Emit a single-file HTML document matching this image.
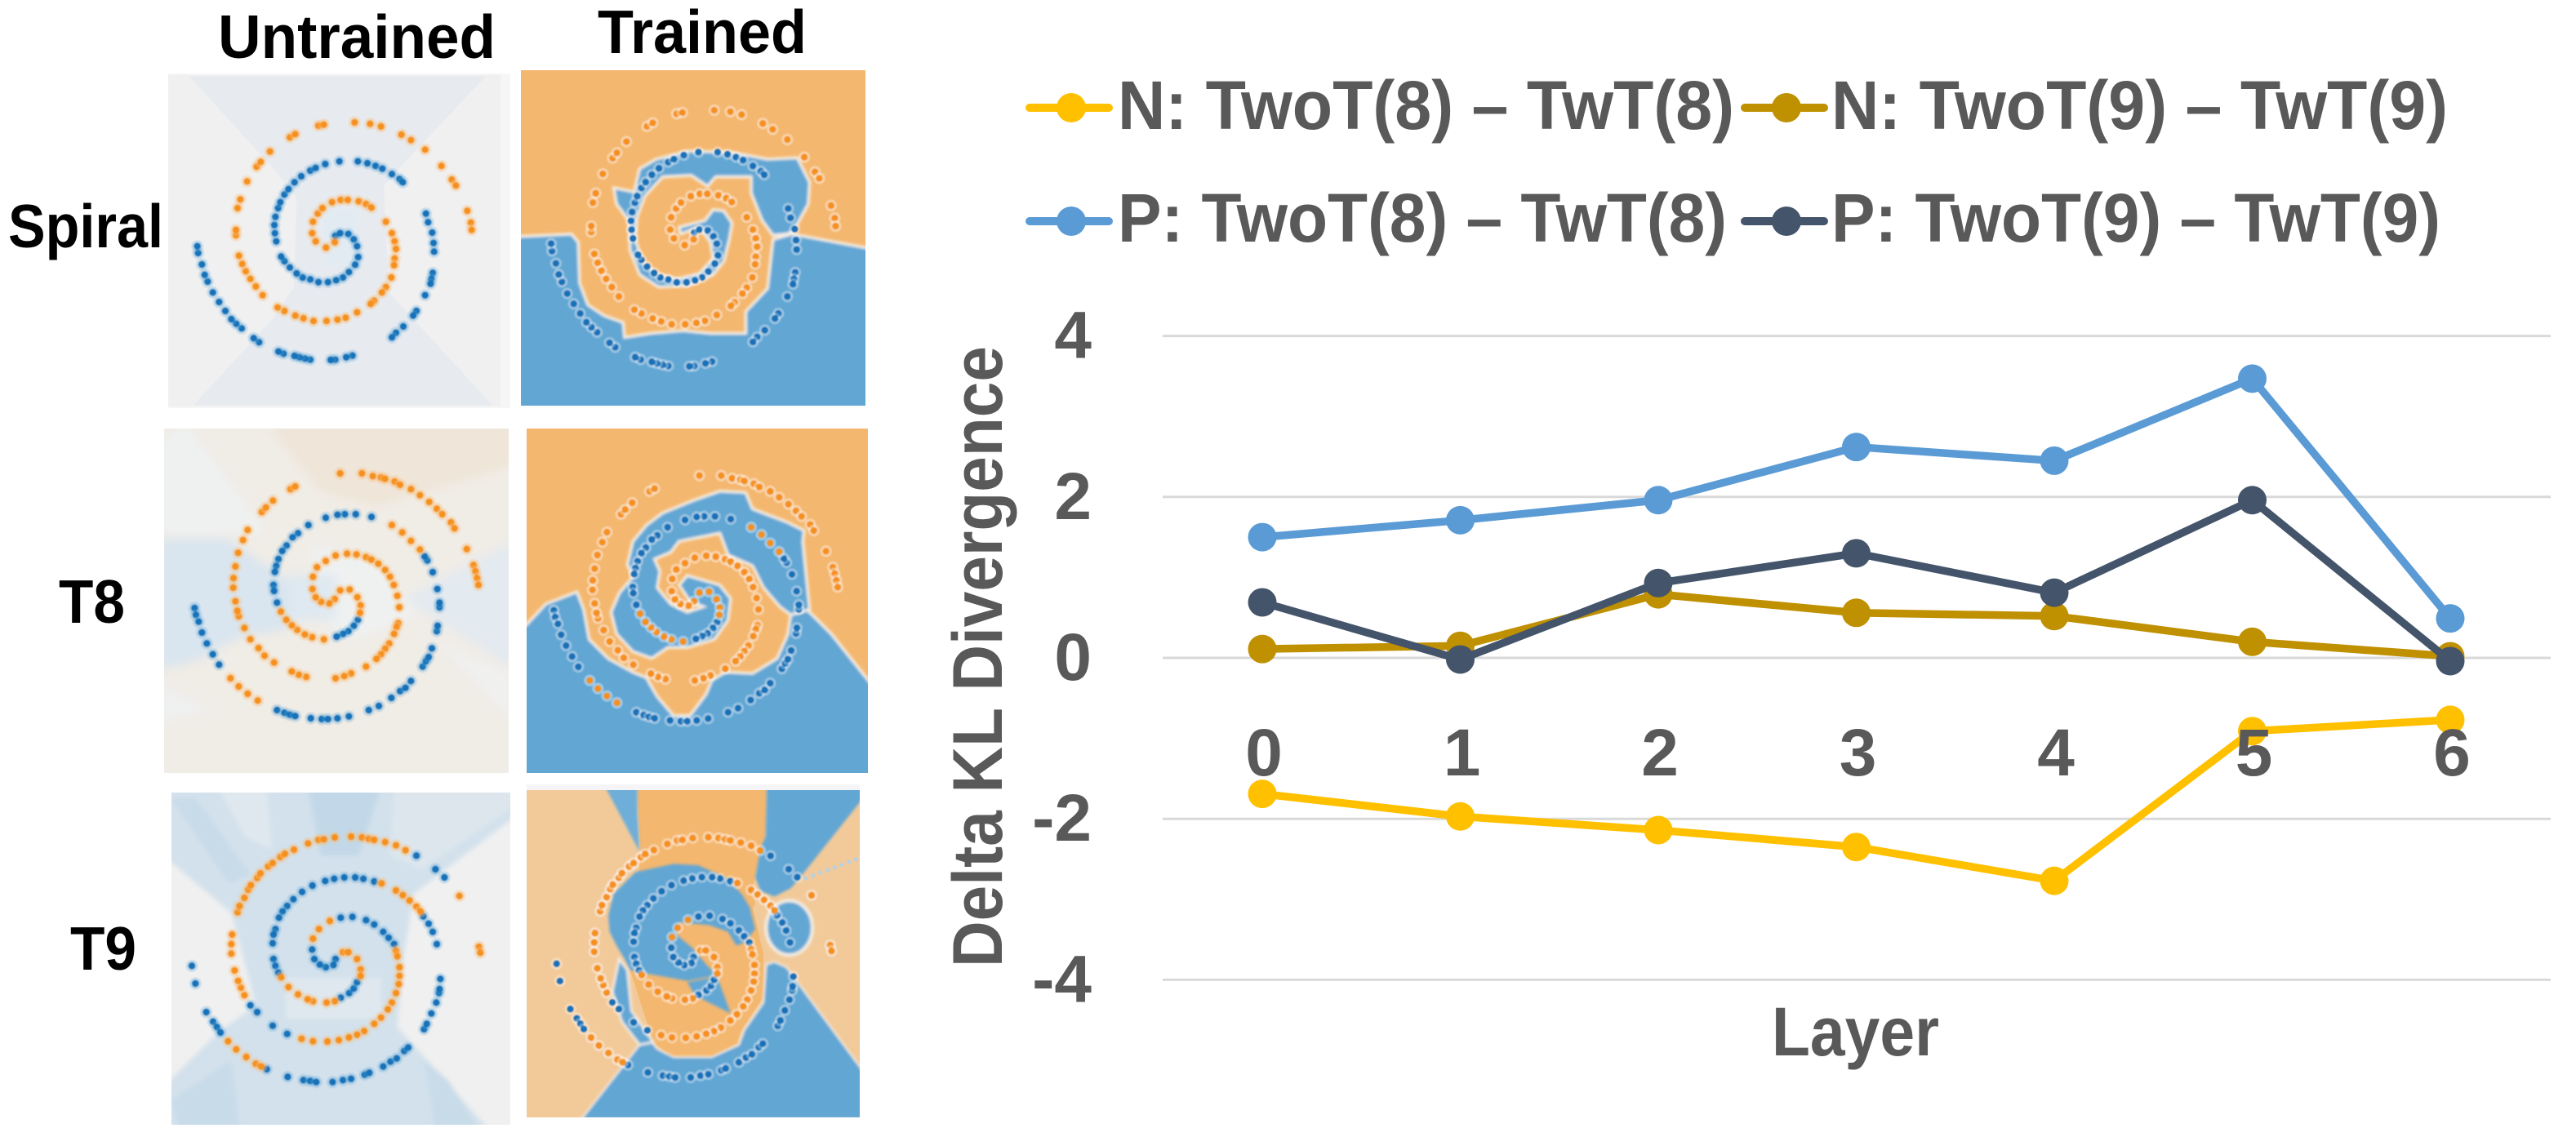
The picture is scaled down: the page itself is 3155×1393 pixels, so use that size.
<!DOCTYPE html>
<html lang="en">
<head>
<meta charset="utf-8">
<title>Spiral decision regions and delta KL divergence</title>
<style>
html,body{margin:0;padding:0;background:#fff;width:3155px;height:1393px;overflow:hidden}
svg{display:block;font-family:"Liberation Sans",sans-serif}
.title{font-size:75px;font-weight:700;fill:#000}
.tick{font-size:82px;font-weight:700;fill:#595959}
.legend{font-size:84px;font-weight:700;fill:#595959}
</style>
</head>
<body>
<svg id="root" xmlns="http://www.w3.org/2000/svg" width="3155" height="1393" viewBox="0 0 3155 1393">
<defs>
<filter id="soft" x="-10%" y="-10%" width="120%" height="120%"><feGaussianBlur stdDeviation="18"/></filter>
<filter id="softer" x="-10%" y="-10%" width="120%" height="120%"><feGaussianBlur stdDeviation="9"/></filter>
<filter id="edge" x="-5%" y="-5%" width="110%" height="110%"><feGaussianBlur stdDeviation="5"/></filter>
<filter id="dotblur" x="-2%" y="-2%" width="104%" height="104%"><feGaussianBlur stdDeviation="0.8"/></filter>
<clipPath id="c1u"><rect x="206" y="92" width="407" height="406"/></clipPath>
<clipPath id="c2u"><rect x="201" y="525" width="422" height="422"/></clipPath>
<clipPath id="c3u"><rect x="210" y="971" width="415" height="407"/></clipPath>
<clipPath id="c1t"><rect x="638" y="86" width="422" height="411"/></clipPath>
<clipPath id="c2t"><rect x="645" y="525" width="418" height="422"/></clipPath>
<clipPath id="c3t"><rect x="645" y="968" width="408" height="401"/></clipPath>
</defs>

<text class="title" x="267" y="71" textLength="340" lengthAdjust="spacingAndGlyphs">Untrained</text>
<text class="title" x="732" y="65" textLength="256" lengthAdjust="spacingAndGlyphs">Trained</text>
<text class="title" x="10" y="303" textLength="190" lengthAdjust="spacingAndGlyphs">Spiral</text>
<text class="title" x="72" y="763" textLength="81" lengthAdjust="spacingAndGlyphs">T8</text>
<text class="title" x="86" y="1188" textLength="81" lengthAdjust="spacingAndGlyphs">T9</text>

<!-- Row 1 untrained -->
<rect x="206" y="90" width="419" height="410" fill="#f6f6f7"/>
<g clip-path="url(#c1u)">
<rect x="206" y="92" width="407" height="406" fill="#f0f0f1"/>
<g transform="translate(200 85) scale(0.33333)">
<polygon points="95,25 1185,25 870,360 810,430 830,820 1210,1235 110,1235 400,920 480,800 490,470 400,360" fill="#e7ebf0"/>
<polygon points="575,500 710,510 730,720 590,730" fill="#e3ebf2" filter="url(#softer)"/>
</g>
</g>

<!-- Row 1 trained -->
<g clip-path="url(#c1t)">
<rect x="638" y="86" width="422" height="411" fill="#f4b76f"/>
<g transform="translate(630 80) scale(0.33333)" fill="#62a6d4" stroke="#f4efe6" stroke-width="10" filter="url(#edge)">
<polygon points="0,630 210,620 235,650 240,800 270,880 330,920 400,945 405,1000 500,985 620,975 720,985 850,985 850,905 930,820 950,640 1020,620 1290,670 1320,680 1320,1280 0,1280"/>
<polygon points="365,450 440,465 460,380 520,345 640,315 800,320 930,345 1040,340 1085,430 1080,510 1025,610 1000,620 950,625 910,570 870,470 870,410 740,410 710,445 650,405 545,410 480,480 450,560 445,640 470,720 530,770 600,785 680,765 730,710 720,650 680,595 610,620 605,595 700,570 730,530 770,535 800,580 790,640 770,720 730,770 640,810 530,815 460,770 425,680 420,570 375,510"/>
</g>
</g>

<!-- Row 2 untrained -->
<g clip-path="url(#c2u)">
<rect x="201" y="525" width="422" height="422" fill="#f0ece6"/>
<g transform="translate(195 520) scale(0.33333)" filter="url(#soft)">
<polygon points="0,60 100,0 400,400 0,400" fill="#eff1f1"/>
<polygon points="400,0 1300,0 1300,150 800,300 600,250" fill="#efe5d8"/>
<polygon points="0,420 250,420 540,620 480,750 300,780 130,870 0,900" fill="#d9e5ef"/>
<polygon points="900,640 1300,430 1300,900 1150,800" fill="#e3eaf0"/>
<polygon points="550,440 800,500 950,700 700,800 600,720" fill="#eff1f1"/>
<polygon points="480,550 650,550 650,720 480,720" fill="#dfe9f1"/>
<polygon points="0,950 200,1050 0,1100" fill="#eff0f0"/>
<polygon points="1000,780 1300,920 1300,1100" fill="#f0f0ef"/>
</g>
</g>

<!-- Row 2 trained -->
<g clip-path="url(#c2t)">
<rect x="645" y="525" width="418" height="422" fill="#f4b76f"/>
<g transform="translate(635 520) scale(0.33333)" fill="#62a6d4" stroke="#f4efe6" stroke-width="10" filter="url(#edge)">
<polygon points="0,760 30,735 100,660 215,615 240,680 260,790 330,860 420,910 470,930 510,1000 570,1070 630,1070 690,990 710,940 760,910 860,915 950,860 990,770 1000,700 1060,680 1150,770 1285,940 1320,980 1320,1320 0,1320"/>
<polygon points="1070,680 1045,430 1050,390 990,360 860,310 835,250 740,245 640,280 530,325 470,370 420,430 400,515 420,560 370,620 340,690 360,770 420,835 490,860 550,820 620,820 720,790 770,720 780,640 740,590 620,555 590,590 630,650 680,670 620,690 560,660 510,600 520,540 500,495 560,470 590,430 740,400 770,480 860,520 900,600 960,670 1000,700"/>
</g>
</g>

<!-- Row 3 untrained -->
<g clip-path="url(#c3u)">
<rect x="210" y="971" width="415" height="407" fill="#d3e1ec"/>
<g transform="translate(200 965) scale(0.33333)">
<g filter="url(#softer)">
<polygon points="0,250 250,460 340,800 200,900 0,1100" fill="#f0f0f0"/>
<polygon points="1300,100 920,390 880,640 860,880 1200,1260 1300,1260" fill="#f0f0f0"/>
<polygon points="200,0 380,0 400,230 300,180" fill="#dfe8ef"/>
<polygon points="850,0 1300,0 1300,60 950,300 830,250" fill="#dde6ed"/>
<polygon points="530,0 800,0 720,250 580,250" fill="#c2d8e8"/>
<polygon points="450,700 800,700 800,850 450,850" fill="#dfe8ee"/>
<polygon points="30,40 120,40 320,320 240,350" fill="#c8dbe9"/>
<polygon points="960,1000 1050,1080 1160,1260 1000,1260" fill="#c8dbe9"/>
<polygon points="30,1150 250,1000 280,1260 60,1260" fill="#c8dbe9"/>
</g>
</g>
</g>

<!-- Row 3 trained -->
<rect x="645" y="961" width="408" height="7" fill="#f5f5f7"/>
<g clip-path="url(#c3t)">
<rect x="645" y="968" width="408" height="401" fill="#f2ca9a"/>
<g transform="translate(635 955) scale(0.33333)">
<polygon points="437,38 912,38 908,210 875,330 860,400 870,460 860,470 900,640 900,800 860,860 815,930 805,970 710,1020 560,1020 495,965 410,700 430,420 450,280" fill="#f4b76f"/>
<g fill="#62a6d4" filter="url(#edge)">
<polygon points="320,30 437,30 437,120 445,265" fill="#6eaed8"/>
<polygon points="912,30 1265,30 1265,70 1035,360 1000,400 940,430 890,410 870,360 890,250 908,210"/>
<polygon points="940,670 985,690 1265,1070 1265,1250 230,1250 445,975 490,965 510,990 570,1020 710,1020 810,975 830,920 900,820 910,680" stroke="#f4efe6" stroke-width="6"/>
<polygon points="330,500 350,420 430,340 570,310 660,315 760,360 820,420 850,470 870,550 830,600 800,610 770,560 700,535 590,525 580,570 640,620 690,680 730,720 620,740 480,715 410,700 390,660 360,610 335,560"/>
<polygon points="620,745 730,725 780,860 650,795"/>
<polygon points="370,660 400,700 415,850 495,965 445,975 380,890 345,780" stroke="#f4efe6" stroke-width="8"/>
<ellipse cx="995" cy="545" rx="85" ry="100" stroke="#f4efe6" stroke-width="12"/>
</g>
<line x1="1050" y1="365" x2="1255" y2="288" stroke="#b9d0e0" stroke-width="14" stroke-dasharray="14 14"/>
</g>
</g>

<g id="dots" filter="url(#dotblur)"></g>

<g id="chart"></g>

<script>
// ---------- Scatter data: [x, y] on a 0-1300 grid ----------
const spiralBlue = [[632,612],[650,602],[680,605],[700,625],[712,650],[716,690],[705,718],[682,745],[660,765],[635,775],[605,782],[570,782],[540,772],[512,765],[490,750],[465,728],[445,705],[433,688],[415,632],[410,602],[408,572],[412,542],[422,510],[430,488],[445,460],[460,440],[482,415],[507,393],[540,372],[560,362],[595,348],[647,338],[715,338],[750,345],[780,355],[805,365],[840,385],[868,403],[880,415],[965,530],[973,562],[988,600],[993,638],[995,670],[990,748],[985,770],[982,788],[962,830],[930,888],[918,905],[882,945],[855,968],[840,985],[695,1052],[672,1058],[632,1067],[615,1068],[540,1067],[520,1063],[500,1058],[482,1053],[442,1045],[423,1037],[352,1003],[332,988],[288,952],[268,935],[250,918],[228,888],[205,855],[182,820],[163,780],[152,755],[142,717],[128,675],[125,650]];
const spiralOrange = [[630,635],[598,655],[560,632],[547,602],[550,560],[568,530],[585,510],[620,488],[652,480],[678,480],[718,485],[745,495],[765,508],[818,560],[840,602],[850,632],[855,660],[850,695],[848,720],[838,765],[818,800],[803,820],[775,850],[762,862],[712,893],[670,913],[640,920],[600,925],[552,925],[515,915],[485,905],[445,888],[420,875],[365,830],[340,798],[320,770],[303,742],[290,715],[278,685],[267,610],[267,590],[273,510],[283,478],[308,412],[343,358],[358,340],[392,302],[465,250],[485,238],[570,207],[590,203],[703,195],[760,200],[800,210],[875,240],[910,260],[962,295],[1022,355],[1060,405],[1075,427],[1117,520],[1130,563],[1133,590]];
const t8Blue = [[130,675],[135,700],[145,725],[157,765],[175,805],[197,845],[220,883],[433,1050],[460,1060],[480,1067],[500,1072],[557,1080],[597,1083],[620,1083],[655,1080],[697,1073],[770,1050],[807,1035],[853,1005],[885,980],[905,968],[925,943],[968,890],[980,870],[990,855],[1002,823],[1020,760],[1023,740],[1030,672],[1030,655],[1022,605],[1005,543],[985,500],[975,485],[780,340],[722,330],[682,330],[655,332],[612,343],[548,370],[510,400],[490,415],[468,445],[452,465],[438,495],[430,520],[425,542],[420,590],[422,612],[433,655],[730,718],[715,740],[695,760],[675,770],[652,780]];
const t8Orange = [[665,610],[700,607],[728,635],[740,665],[738,692],[605,790],[562,782],[535,772],[507,755],[487,738],[467,718],[447,688],[645,642],[625,658],[595,652],[575,635],[563,605],[565,560],[580,525],[612,502],[648,482],[690,475],[725,478],[760,488],[780,497],[805,512],[830,535],[848,560],[862,590],[875,630],[882,672],[878,730],[872,745],[863,770],[845,805],[830,825],[815,845],[798,862],[760,890],[705,915],[680,925],[648,933],[540,928],[513,920],[487,908],[422,875],[387,850],[365,822],[335,790],[313,748],[292,705],[287,685],[280,650],[272,600],[273,565],[280,522],[290,472],[308,425],[325,388],[377,322],[392,305],[418,280],[482,238],[500,228],[665,180],[745,180],[785,190],[815,195],[830,200],[865,210],[885,222],[925,238],[958,260],[992,285],[1020,310],[1040,330],[1072,360],[1085,382],[1130,458],[1155,517],[1162,540],[1168,565],[1173,590],[855,370],[893,397],[925,428],[958,460],[262,933],[292,963],[325,990],[362,1015]];
const t9Blue = [[105,655],[118,720],[158,825],[183,860],[197,880],[210,900],[380,1035],[457,1063],[515,1075],[540,1078],[562,1082],[622,1082],[660,1075],[690,1070],[740,1055],[757,1048],[808,1025],[835,1007],[858,995],[885,968],[900,955],[958,888],[968,868],[985,830],[1003,790],[1013,755],[1015,740],[1018,703],[1005,575],[990,530],[975,500],[955,473],[775,345],[735,335],[705,330],[665,330],[628,335],[595,343],[548,360],[510,383],[478,410],[455,435],[438,455],[425,478],[412,520],[405,540],[402,572],[405,630],[412,655],[423,680],[320,800],[345,825],[402,875],[455,905],[652,772],[683,755],[700,738],[712,715],[633,630],[625,652],[597,660],[575,650],[555,630],[547,595],[652,478],[695,475],[745,487],[775,503],[808,530],[828,552],[848,575],[930,250],[1000,300],[1033,330]];
const t9Orange = [[660,605],[680,605],[712,630],[725,668],[725,692],[630,785],[600,790],[550,785],[530,778],[495,760],[460,733],[433,697],[550,555],[572,520],[612,490],[855,600],[860,620],[868,660],[868,692],[865,722],[855,755],[840,790],[825,815],[800,845],[775,868],[738,895],[712,908],[682,918],[645,928],[603,933],[550,932],[508,923],[298,763],[285,735],[275,710],[262,672],[250,610],[250,575],[253,540],[273,458],[280,435],[298,405],[312,375],[322,358],[345,332],[357,315],[385,290],[402,277],[430,255],[447,243],[480,228],[532,205],[570,192],[590,190],[630,183],[690,180],[730,183],[755,188],[775,192],[815,200],[855,212],[890,230],[802,352],[855,378],[880,395],[905,415],[930,437],[945,455],[1088,398],[1160,585],[1165,607],[238,932],[268,962],[305,990],[340,1015],[360,1025]];

// ---------- Line chart data ----------
const layers = [0,1,2,3,4,5,6];
const yTickValues = [4,2,0,-2,-4];
const seriesN8 = [-1.69,-1.97,-2.14,-2.35,-2.77,-0.91,-0.77];
const seriesN9 = [0.11,0.15,0.79,0.56,0.52,0.20,0.02];
const seriesP8 = [1.50,1.71,1.96,2.62,2.45,3.47,0.49];
const seriesP9 = [0.69,-0.02,0.93,1.30,0.81,1.96,-0.04];
const legendN8 = 'N: TwoT(8) \u2013 TwT(8)';
const legendN9 = 'N: TwoT(9) \u2013 TwT(9)';
const legendP8 = 'P: TwoT(8) \u2013 TwT(8)';
const legendP9 = 'P: TwoT(9) \u2013 TwT(9)';

const NS = 'http://www.w3.org/2000/svg';
function mk(tag, attrs, parent, txt) {
  const el = document.createElementNS(NS, tag);
  for (const k in attrs) el.setAttribute(k, attrs[k]);
  if (txt !== undefined) el.textContent = txt;
  parent.appendChild(el);
  return el;
}

// ---------- Scatter panels ----------
const dotsLayer = document.getElementById('dots');
function drawPoints(g, pts, color, ox, oy, ax, bx, ay, by, halo) {
  pts.forEach(p => {
    const c = mk('circle', {
      cx: ox + (ax * p[0] + bx) / 3,
      cy: oy + (ay * p[1] + by) / 3,
      r: 4.2,
      fill: color,
      stroke: halo,
      'stroke-width': 6,
      'paint-order': 'stroke'
    }, g);
    
    
  });
}
function drawPanel(name, clip, blue, orange, ox, oy, ax, bx, ay, by, trained) {
  const g = mk('g', { 'clip-path': 'url(#' + clip + ')' }, dotsLayer);
  
  
  drawPoints(g, blue, '#1471b8', ox, oy, ax, bx, ay, by, trained ? 'rgba(255,255,255,0.32)' : 'rgba(90,165,215,0.3)');
  drawPoints(g, orange, '#f5901c', ox, oy, ax, bx, ay, by, trained ? 'rgba(255,255,255,0.38)' : 'rgba(250,190,120,0.4)');
}
drawPanel('spiral-untrained', 'c1u', spiralBlue, spiralOrange, 200, 85, 1, 0, 1, 0, false);
drawPanel('spiral-trained', 'c1t', spiralBlue, spiralOrange, 630, 80, 1.037, 5.4, 1.078, -45, true);
drawPanel('t8-untrained', 'c2u', t8Blue, t8Orange, 195, 520, 1, 0, 1, 0, false);
drawPanel('t8-trained', 'c2t', t8Blue, t8Orange, 635, 520, 1, 0, 1, 8, true);
drawPanel('t9-untrained', 'c3u', t9Blue, t9Orange, 200, 965, 1, 0, 1, 0, false);
drawPanel('t9-trained', 'c3t', t9Blue, t9Orange, 635, 955, 0.953, 40, 0.979, 36, true);

// ---------- Line chart ----------
const chart = document.getElementById('chart');
const X0 = 1546, XSTEP = 242.5, Y0 = 806, YUNIT = 98.6;
const xScale = i => X0 + i * XSTEP;
const yScale = v => Y0 - v * YUNIT;

yTickValues.forEach(v => {
  const line = mk('line', { x1: 1424, x2: 3124, y1: yScale(v), y2: yScale(v), stroke: '#d9d9d9', 'stroke-width': 3 }, chart);
  
  
});

function drawSeries(name, values, color) {
  const g = mk('g', {}, chart);
  
  
  const pts = values.map((v, i) => xScale(i) + ',' + yScale(v)).join(' ');
  const pl = mk('polyline', { points: pts, fill: 'none', stroke: color, 'stroke-width': 9.5, 'stroke-linejoin': 'round' }, g);
  
  
  values.forEach((v, i) => {
    const c = mk('circle', { cx: xScale(i), cy: yScale(v), r: 17.5, fill: color }, g);
    
    
  });
}
drawSeries('series-n-t8', seriesN8, '#ffc000');
drawSeries('series-n-t9', seriesN9, '#bf9000');
drawSeries('series-p-t8', seriesP8, '#5b9bd5');
drawSeries('series-p-t9', seriesP9, '#44546a');

yTickValues.forEach(v => {
  const t = mk('text', { class: 'tick', x: 1337, y: yScale(v) + 27, 'text-anchor': 'end' }, chart, String(v));
  
  
});
layers.forEach((v, i) => {
  const t = mk('text', { class: 'tick', x: xScale(i) + 2, y: 950, 'text-anchor': 'middle' }, chart, String(v));
  
  
});

const yTitle = mk('text', { class: 'tick', style: 'font-size:86px', transform: 'translate(1227,1185) rotate(-90)', textLength: 761, lengthAdjust: 'spacingAndGlyphs' }, chart, 'Delta KL Divergence');


const xTitle = mk('text', { class: 'tick', style: 'font-size:84px', x: 2170, y: 1293, textLength: 205, lengthAdjust: 'spacingAndGlyphs' }, chart, 'Layer');



function drawLegend(name, label, color, keyX, textX, textW, y, baseline) {
  const g = mk('g', {}, chart);
  
  
  const line = mk('line', { x1: keyX - 49, x2: keyX + 48, y1: y, y2: y, stroke: color, 'stroke-width': 10, 'stroke-linecap': 'round' }, g);
  
  
  const dot = mk('circle', { cx: keyX + 2, cy: y, r: 18, fill: color }, g);
  
  
  const t = mk('text', { class: 'legend', x: textX, y: baseline, textLength: textW, lengthAdjust: 'spacingAndGlyphs' }, g, label);
  
  
}
drawLegend('legend-n-t8', legendN8, '#ffc000', 1310, 1369, 755, 132, 158);
drawLegend('legend-n-t9', legendN9, '#bf9000', 2186, 2243, 755, 132, 158);
drawLegend('legend-p-t8', legendP8, '#5b9bd5', 1310, 1369, 746, 271, 296);
drawLegend('legend-p-t9', legendP9, '#44546a', 2186, 2243, 746, 271, 296);
</script>
</svg>
</body>
</html>
